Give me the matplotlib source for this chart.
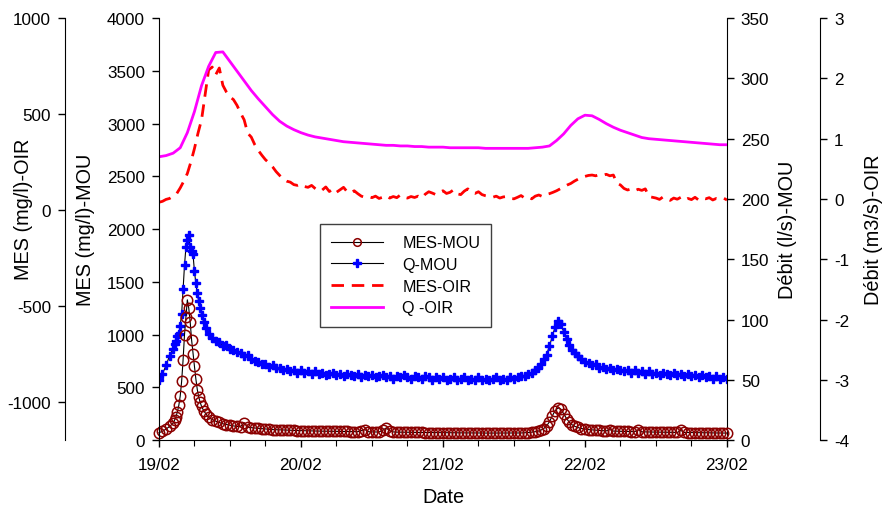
import numpy as np
import matplotlib.pyplot as plt
from matplotlib.ticker import MultipleLocator

plt.rcParams['font.family'] = ['Liberation Sans', 'DejaVu Sans']
plt.rcParams['axes.unicode_minus'] = False

# x axis: days since 19/02 00:00
day_labels = ["19/02", "20/02", "21/02", "22/02", "23/02"]

# Mouline station (MOU)
t_mou = [0.000, 0.025, 0.050, 0.075, 0.100, 0.110, 0.120, 0.130, 0.140, 0.150,
         0.160, 0.170, 0.180, 0.190, 0.200, 0.210, 0.220, 0.230, 0.240, 0.250,
         0.260, 0.270, 0.280, 0.290, 0.300, 0.315, 0.330, 0.350, 0.375,
         0.400, 0.425, 0.450, 0.475, 0.500, 0.525, 0.550, 0.575, 0.600, 0.625,
         0.650, 0.675, 0.700, 0.725, 0.750, 0.775, 0.800, 0.825, 0.850, 0.875,
         0.900, 0.925, 0.950, 0.975, 1.000, 1.025, 1.050, 1.075, 1.100, 1.125,
         1.150, 1.175, 1.200, 1.225, 1.250, 1.275, 1.300, 1.325, 1.350, 1.375,
         1.400, 1.425, 1.450, 1.475, 1.500, 1.525, 1.550, 1.575, 1.600, 1.625,
         1.650, 1.675, 1.700, 1.725, 1.750, 1.775, 1.800, 1.825, 1.850, 1.875,
         1.900, 1.925, 1.950, 1.975, 2.000, 2.025, 2.050, 2.075, 2.100, 2.125,
         2.150, 2.175, 2.200, 2.225, 2.250, 2.275, 2.300, 2.325, 2.350, 2.375,
         2.400, 2.425, 2.450, 2.475, 2.500, 2.525, 2.550, 2.575, 2.600, 2.625,
         2.650,
         2.67, 2.69, 2.71, 2.73, 2.75, 2.77, 2.79, 2.81, 2.83, 2.85,
         2.87, 2.89, 2.91, 2.93, 2.95, 2.975,
         3.000, 3.025, 3.050, 3.075, 3.100, 3.125, 3.150, 3.175, 3.200, 3.225,
         3.250, 3.275, 3.300, 3.325, 3.350, 3.375, 3.400, 3.425, 3.450, 3.475,
         3.500, 3.525, 3.550, 3.575, 3.600, 3.625, 3.650, 3.675, 3.700, 3.725,
         3.750, 3.775, 3.800, 3.825, 3.850, 3.875, 3.900, 3.925, 3.950, 3.975,
         4.000]
mes_mou = [70, 85, 105, 130, 160, 190, 220, 270, 330, 420,
           560, 760, 1000, 1170, 1330, 1250, 1120, 950, 820, 700,
           580, 480, 410, 360, 320, 280, 250, 215, 195,
           180, 168, 155, 148, 140, 135, 130, 128, 165, 122,
           118, 115, 112, 108, 105, 103, 100, 99, 98, 96,
           95, 94, 92, 91, 90, 89, 88, 87, 86, 86,
           85, 85, 84, 84, 83, 83, 82, 82, 81, 80,
           80, 90, 100, 80, 78, 78, 77, 95, 115, 90,
           78, 76, 76, 75, 75, 74, 74, 73, 73, 72,
           72, 72, 71, 71, 71, 70, 70, 70, 69, 69,
           69, 68, 68, 68, 68, 67, 67, 67, 67, 66,
           66, 66, 66, 66, 66, 67, 68, 70, 72, 76,
           80,
           85, 95, 110, 135, 175, 230, 280, 305, 295, 250,
           205, 170, 145, 130, 120, 110,
           105, 100, 97, 95, 92, 90, 88, 100, 86, 85,
           84, 83, 82, 81, 80, 98, 79, 78, 78, 77,
           76, 76, 75, 75, 74, 74, 73, 92, 73, 72,
           72, 71, 71, 70, 70, 69, 69, 68, 68, 67,
           67]
q_mou = [50, 55, 62, 70, 76, 80, 82, 86, 88, 95,
         105, 125, 145, 160, 166, 170, 160, 157, 154, 140,
         130, 122, 115, 110, 104, 98, 93, 88, 85,
         82, 81, 78, 79, 76, 75, 73, 72, 70, 71,
         67, 66, 65, 63, 63, 61, 62, 60, 60, 58,
         59, 57, 58, 56, 58, 56, 57, 55, 57, 55,
         56, 54, 55, 56, 54, 55, 53, 55, 54, 53,
         55, 52, 54, 53, 54, 52, 53, 54, 52, 53,
         51, 53, 52, 54, 52, 51, 53, 52, 51, 53,
         52, 50, 52, 51, 52, 50, 51, 52, 50, 51,
         52, 50, 51, 50, 52, 50, 51, 50, 51, 52,
         50, 51, 50, 52, 51, 52, 53, 53, 55, 56,
         58,
         60, 63, 67, 71, 78, 86, 94, 99, 96, 90,
         84, 79, 75, 72, 70, 67,
         65, 64, 62, 63, 60, 61, 59, 60, 58, 59,
         58, 57, 58, 56, 58, 56, 57, 55, 57, 55,
         56, 54, 56, 55, 54, 56, 54, 55, 53, 55,
         53, 54, 52, 54, 52, 53, 51, 53, 51, 52,
         51]

# Oir station (OIR): suspended matter, every 0.025 day
t_mes_oir = [0.000, 0.025, 0.050, 0.075, 0.100, 0.125, 0.150, 0.175, 0.200, 0.225,
             0.250, 0.275, 0.300, 0.325, 0.350, 0.375, 0.400, 0.425, 0.450, 0.475,
             0.500, 0.525, 0.550, 0.575, 0.600, 0.625, 0.650, 0.675, 0.700, 0.725,
             0.750, 0.775, 0.800, 0.825, 0.850, 0.875, 0.900, 0.925, 0.950, 0.975,
             1.000, 1.025, 1.050, 1.075, 1.100, 1.125, 1.150, 1.175, 1.200, 1.225,
             1.250, 1.275, 1.300, 1.325, 1.350, 1.375, 1.400, 1.425, 1.450, 1.475,
             1.500, 1.525, 1.550, 1.575, 1.600, 1.625, 1.650, 1.675, 1.700, 1.725,
             1.750, 1.775, 1.800, 1.825, 1.850, 1.875, 1.900, 1.925, 1.950, 1.975,
             2.000, 2.025, 2.050, 2.075, 2.100, 2.125, 2.150, 2.175, 2.200, 2.225,
             2.250, 2.275, 2.300, 2.325, 2.350, 2.375, 2.400, 2.425, 2.450, 2.475,
             2.500, 2.525, 2.550, 2.575, 2.600, 2.625, 2.650, 2.675, 2.700, 2.725,
             2.750, 2.775, 2.800, 2.825, 2.850, 2.875, 2.900, 2.925, 2.950, 2.975,
             3.000, 3.025, 3.050, 3.075, 3.100, 3.125, 3.150, 3.175, 3.200, 3.225,
             3.250, 3.275, 3.300, 3.325, 3.350, 3.375, 3.400, 3.425, 3.450, 3.475,
             3.500, 3.525, 3.550, 3.575, 3.600, 3.625, 3.650, 3.675, 3.700, 3.725,
             3.750, 3.775, 3.800, 3.825, 3.850, 3.875, 3.900, 3.925, 3.950, 3.975,
             4.000]
mes_oir = [40, 45, 55, 60, 72, 85, 115, 150, 190, 250,
           320, 400, 470, 600, 730, 745, 705, 740, 650, 615,
           590, 575, 545, 505, 470, 400, 380, 340, 310, 285,
           262, 245, 225, 200, 180, 160, 150, 145, 132, 128,
           135, 122, 118, 128, 112, 98, 104, 120, 96, 110,
           92, 105, 118, 95, 88, 100, 85, 72, 66, 70,
           64, 72, 60, 66, 75, 62, 70, 64, 78, 66,
           62, 70, 65, 72, 62, 82, 95, 88, 80, 92,
           100, 86, 92, 105, 84, 80, 98, 110, 90, 86,
           95, 80, 74, 70, 66, 72, 62, 68, 70, 60,
           58, 66, 75, 62, 68, 58, 72, 78, 70, 80,
           85, 92, 100, 110, 120, 130, 138, 150, 160, 170,
           175, 180, 182, 178, 184, 180, 186, 178, 182, 140,
           130, 112, 104, 110, 100, 108, 102, 110, 70, 66,
           62, 55, 68, 60, 50, 62, 56, 66, 52, 60,
           54, 66, 52, 62, 58, 64, 52, 60, 56, 62,
           52]

# Oir station (OIR): discharge, every 0.05 day
t_q_oir = [0.00, 0.05, 0.10, 0.15, 0.20, 0.25, 0.30, 0.35, 0.40, 0.45,
           0.50, 0.55, 0.60, 0.65, 0.70, 0.75, 0.80, 0.85, 0.90, 0.95,
           1.00, 1.05, 1.10, 1.15, 1.20, 1.25, 1.30, 1.35, 1.40, 1.45,
           1.50, 1.55, 1.60, 1.65, 1.70, 1.75, 1.80, 1.85, 1.90, 1.95,
           2.00, 2.05, 2.10, 2.15, 2.20, 2.25, 2.30, 2.35, 2.40, 2.45,
           2.50, 2.55, 2.60, 2.65, 2.70, 2.75, 2.80, 2.85, 2.90, 2.95,
           3.00, 3.05, 3.10, 3.15, 3.20, 3.25, 3.30, 3.35, 3.40, 3.45,
           3.50, 3.55, 3.60, 3.65, 3.70, 3.75, 3.80, 3.85, 3.90, 3.95, 4.00]
q_oir = [0.70, 0.72, 0.76, 0.85, 1.10, 1.45, 1.88, 2.20, 2.43, 2.44,
         2.28, 2.12, 1.96, 1.80, 1.66, 1.53, 1.40, 1.29, 1.21, 1.15,
         1.10, 1.06, 1.03, 1.01, 0.99, 0.97, 0.95, 0.94, 0.93, 0.92,
         0.91, 0.90, 0.89, 0.89, 0.88, 0.88, 0.87, 0.87, 0.86, 0.86,
         0.86, 0.85, 0.85, 0.85, 0.85, 0.85, 0.84, 0.84, 0.84, 0.84,
         0.84, 0.84, 0.84, 0.85, 0.86, 0.88, 0.97, 1.08, 1.22, 1.33,
         1.39, 1.38, 1.32, 1.25, 1.19, 1.14, 1.10, 1.06, 1.02, 1.00,
         0.99, 0.98, 0.97, 0.96, 0.95, 0.94, 0.93, 0.92, 0.91, 0.90, 0.90]

fig = plt.figure(figsize=(8.83, 5.10), dpi=100)
ax = fig.add_axes([0.180, 0.135, 0.6433, 0.8275])
ax_q = ax.twinx()
ax_mo = ax.twinx()
ax_qo = ax.twinx()

# spines
for a in (ax, ax_q, ax_mo, ax_qo):
    for s in a.spines.values():
        s.set_visible(False)
ax.spines['left'].set_visible(True)
ax.spines['bottom'].set_visible(True)
ax_q.spines['right'].set_visible(True)
ax_mo.spines['left'].set_visible(True)
ax_mo.spines['left'].set_position(('axes', -0.1655))
ax_mo.yaxis.set_ticks_position('left')
ax_mo.yaxis.set_label_position('left')
ax_qo.spines['right'].set_visible(True)
ax_qo.spines['right'].set_position(('axes', 1.164))

# data
ax_q.plot(t_mou, q_mou, color='black', lw=0.8, marker='P', ms=6,
          mfc='#0000FF', mec='#0000FF', label='Q-MOU')
ax.plot(t_mou, mes_mou, color='black', lw=0.8, marker='o', ms=7.5,
        mfc='none', mec='#8B0000', mew=1.1, label='MES-MOU', clip_on=False)
ax_mo.plot(t_mes_oir, mes_oir, color='#FF0000', lw=2, ls=(0, (4.5, 2.8)),
           label='MES-OIR')
ax_qo.plot(t_q_oir, q_oir, color='#FF00FF', lw=2, label='Q -OIR')

ax.set_zorder(ax_qo.get_zorder() + 1)
ax.patch.set_visible(False)

# limits and ticks
ax.set_xlim(0, 4)
ax.set_xticks(range(5))
ax.set_xticklabels(day_labels)
ax.xaxis.set_minor_locator(MultipleLocator(0.25))
ax.set_ylim(0, 4000)
ax.set_yticks(np.arange(0, 4001, 500))
ax_q.set_ylim(0, 350)
ax_q.set_yticks(np.arange(0, 351, 50))
ax_mo.set_ylim(-1200, 1000)
ax_mo.set_yticks([-1000, -500, 0, 500, 1000])
ax_qo.set_ylim(-4, 3)
ax_qo.set_yticks(range(-4, 4))

for a in (ax, ax_q, ax_mo, ax_qo):
    a.tick_params(which='major', direction='out', length=5, width=1,
                  labelsize=12.3, pad=5)
ax.tick_params(axis='x', which='minor', direction='out', length=4, width=0.8)
ax.tick_params(axis='x', which='major', pad=7)

# labels
lab_size = 14.3
ax.set_xlabel('Date', fontsize=lab_size, labelpad=11)
ax.set_ylabel('MES (mg/l)-MOU', fontsize=lab_size)
ax.yaxis.set_label_coords(-0.113, 0.5)
ax_mo.set_ylabel('MES (mg/l)-OIR', fontsize=lab_size)
ax_mo.yaxis.set_label_coords(-0.222, 0.55)
ax_q.set_ylabel('Débit (l/s)-MOU', fontsize=lab_size)
ax_q.yaxis.set_label_coords(1.090, 0.5)
ax_qo.set_ylabel('Débit (m3/s)-OIR', fontsize=lab_size)
ax_qo.yaxis.set_label_coords(1.241, 0.5)

# legend
handles = []
labels = []
for a in (ax, ax_q, ax_mo, ax_qo):
    h, l = a.get_legend_handles_labels()
    handles += h
    labels += l
leg = fig.legend(handles, labels, loc='upper left',
                 bbox_to_anchor=(0.3624, 0.559), bbox_transform=fig.transFigure,
                 borderaxespad=0, fontsize=11.6, frameon=True, fancybox=False,
                 framealpha=1, edgecolor='#404040', borderpad=0.7,
                 handlelength=3.2, handletextpad=1.2, labelspacing=0.42)
leg.get_frame().set_linewidth(1)
leg.set_zorder(20)
# smaller markers in the legend, as in the reference
for lh in leg.legend_handles:
    lh.set_markersize(5.5)

fig.savefig('out.png', dpi=100)
